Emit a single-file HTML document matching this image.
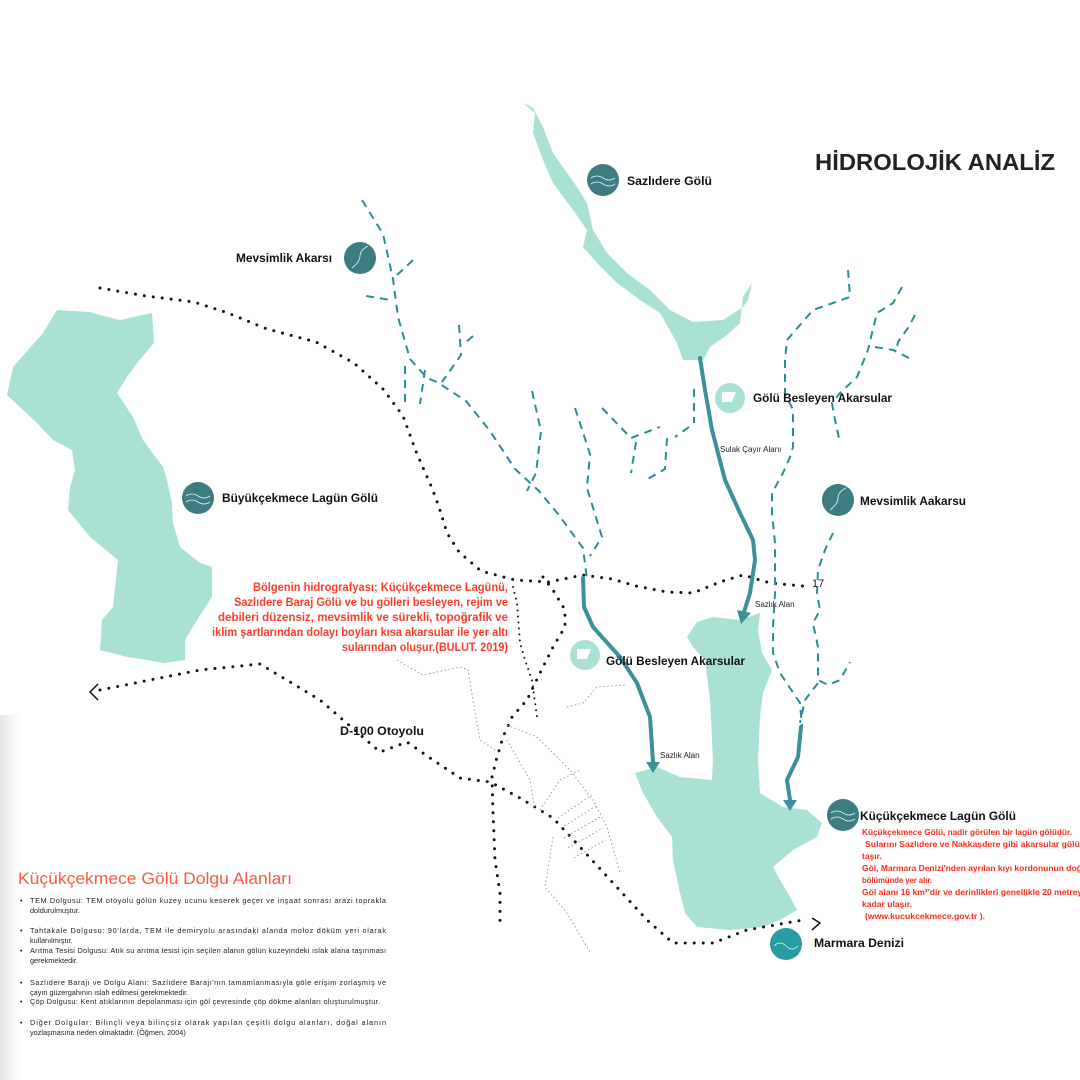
<!DOCTYPE html>
<html><head><meta charset="utf-8"><style>
body{margin:0;background:#fff;}
svg{display:block}
text{font-family:"Liberation Sans",sans-serif;}
.lb{font-weight:bold;font-size:12px;fill:#111}
.rd{font-weight:bold;font-size:11.5px;fill:#ff3b2a}
.rs{font-size:8.5px;fill:#ff2a1a;font-weight:bold}
.sm{font-size:7.3px;fill:#222}
.ds{fill:none;stroke:#2a8c97;stroke-width:2;stroke-dasharray:8 6}
.dt{fill:none;stroke:#111;stroke-width:3;stroke-dasharray:0 9;stroke-linecap:round}
.dts{fill:none;stroke:#111;stroke-width:2;stroke-dasharray:0 6;stroke-linecap:round}
.gd{fill:none;stroke:#999;stroke-width:1;stroke-dasharray:1.5 2.5}
.ar{fill:none;stroke:#3c9198;stroke-width:4;stroke-linecap:round;stroke-linejoin:round}
.ic{fill:none;stroke:#dff;stroke-width:0.8}
</style></head><body>
<svg width="1080" height="1080" viewBox="0 0 1080 1080">
<defs><linearGradient id="g" x1="0" x2="1"><stop offset="0" stop-color="#e6e6e6"/><stop offset="1" stop-color="#fff"/></linearGradient></defs>
<rect x="0" y="715" width="20" height="365" fill="url(#g)"/>
<g fill="#a9e2d4">
<polygon points="57,310 90,312 100,315 120,320 133,317 152,313 154,343 137,363 127,377 117,393 133,417 143,440 163,467 167,480 172,503 173,523 180,547 200,563 212,567 212,597 197,620 185,640 185,660 163,663 147,660 127,657 100,650 102,620 113,607 118,560 90,537 68,510 70,487 75,470 72,450 53,440 37,423 7,395 13,367 43,333"/>
<polygon points="523,103 535,113 533,133 543,160 553,183 573,210 587,230 583,247 597,263 617,283 640,300 660,313 677,343 683,360 703,360 710,347 727,335 740,323 743,297 752,283 748,300 743,307 723,320 693,322 670,310 650,290 627,273 607,253 593,230 587,203 577,187 553,153 543,127 533,108"/>
<polygon points="687,637 697,622 713,617 740,620 760,613 758,630 762,653 772,670 763,693 760,717 758,760 760,793 783,807 807,810 822,823 817,837 793,850 773,867 780,880 788,893 797,910 780,920 763,927 730,930 697,927 685,913 680,893 673,860 672,837 657,817 643,793 635,773 657,767 680,777 712,780 713,760 710,700 705,660 693,647"/>
</g>
<g class="dt">
<polyline points="100,288 146,296 194,302 228,313 267,329 316,342 354,363 383,389 403,416 417,454 432,488 439,507 447,533 459,552 481,571 515,580 549,582 583,575 612,579 636,586 667,592 693,593 720,582 743,575 770,583 803,586"/>
<polyline points="100,690 200,670 260,664 320,700 380,752 407,742 433,760 460,778 490,782 520,798 553,818 580,847 613,883 647,920 673,943 713,943 747,930 803,920"/>
<polyline points="543,577 553,590 565,610 565,627 553,647 540,673 527,700 512,717 503,737 497,757 492,777 493,813 495,860 500,893 500,925"/>
</g>
<polyline class="dts" points="513,587 517,603 520,643 525,660 532,680 537,717"/>
<polyline points="98,684 90,692 98,700" fill="none" stroke="#111" stroke-width="1.5"/>
<polyline points="812,918 820,923 812,930" fill="none" stroke="#111" stroke-width="1.5"/>
<g class="gd">
<polyline points="397,660 423,675 460,667 468,670 473,700 480,740 500,753"/>
<polyline points="567,707 583,703 597,687 625,685"/>
<polyline points="507,725 537,737 570,770 593,800 607,827 620,873"/>
<polyline points="553,837 545,887 567,913 590,952"/>
<polyline points="507,740 530,780 535,810"/>
<polyline points="540,810 560,780 580,770"/>
<line x1="558" y1="818" x2="592" y2="795"/><line x1="561" y1="828" x2="596" y2="806"/>
<line x1="564" y1="838" x2="600" y2="817"/><line x1="568" y1="848" x2="603" y2="828"/>
<line x1="574" y1="858" x2="606" y2="840"/>
</g>
<g class="ds">
<polyline points="362,200 383,234 393,279 398,317 410,359 427,378 437,382 466,401 490,431 515,469 539,491 558,514 583,548 587,579"/>
<polyline points="413,260 396,276"/>
<polyline points="366,296 391,300"/>
<polyline points="405,366 405,404"/>
<polyline points="425,370 420,404"/>
<polyline points="473,336 464,344"/>
<polyline points="459,325 461,355 442,382"/>
<polyline points="532,391 541,431 536,473 527,491"/>
<polyline points="575,408 590,454 587,488 602,537 590,556"/>
<polyline points="602,408 631,438 660,427"/>
<polyline points="636,442 631,473"/>
<polyline points="667,438 665,469 646,480"/>
<polyline points="689,427 675,437"/>
<polyline points="694,389 694,423"/>
<polyline points="848,270 850,297 833,303 813,310 800,325 787,340 785,360 785,393 793,410 793,447 790,457 783,473 772,493 772,513 775,543 775,593 773,627 773,653 780,673 800,703 802,727"/>
<polyline points="902,287 893,303 877,313 872,333 868,350 857,377 840,393 832,403 835,420 840,443"/>
<polyline points="915,315 908,328 898,342 897,347"/>
<polyline points="875,347 893,350 913,360"/>
<polyline points="833,533 825,550 818,570 817,593 820,610 813,623 818,647 818,680 828,685 840,680 850,662"/>
<polyline points="818,683 805,700 800,723"/>
</g>
<g class="ar">
<polyline points="700,358 705,390 712,430 725,480 740,513 753,540 755,560 750,593 744,612"/>
<polyline points="583,578 584,607 593,627 620,657 637,683 650,717 653,762"/>
<polyline points="801,727 798,757 787,780 790,800"/>
</g>
<g fill="#3c9198">
<polygon points="737,610 751,613 741,624"/>
<polygon points="646,762 660,762 653,773"/>
<polygon points="783,800 797,800 790,811"/>
</g>
<g fill="#3d7c80">
<circle cx="603" cy="180" r="16"/><circle cx="360" cy="258" r="16"/><circle cx="198" cy="498" r="16"/>
<circle cx="838" cy="500" r="16"/><circle cx="843" cy="815" r="16"/><circle cx="786" cy="944" r="16" fill="#2a9ba0"/>
</g>
<g class="ic">
<path d="M591 178 q6 -4 12 0 t12 0 M591 184 q6 -4 12 0 t12 0"/>
<path d="M186 496 q6 -4 12 0 t12 0 M186 502 q6 -4 12 0 t12 0"/>
<path d="M831 813 q6 -4 12 0 t12 0 M831 819 q6 -4 12 0 t12 0"/>
<path d="M774 946 q6 -6 12 0 t12 0"/>
<path d="M352 268 q8 -6 8 -12 t8 -10"/>
<path d="M830 510 q8 -6 8 -12 t8 -10"/>
</g>
<circle cx="730" cy="398" r="15" fill="#a9e2d4"/><circle cx="585" cy="655" r="15" fill="#a9e2d4"/>
<path d="M722 392 h14 l-4 10 h-10z M577 649 h14 l-4 10 h-10z" fill="#fff"/>
<text x="815" y="170" textLength="240" lengthAdjust="spacingAndGlyphs" style="font-weight:bold;font-size:23px;fill:#222">HİDROLOJİK ANALİZ</text>
<text class="lb" x="627" y="185" textLength="85" lengthAdjust="spacingAndGlyphs">Sazlıdere Gölü</text>
<text class="lb" x="236" y="262" textLength="96" lengthAdjust="spacingAndGlyphs">Mevsimlik Akarsı</text>
<text class="lb" x="753" y="402" textLength="139" lengthAdjust="spacingAndGlyphs">Gölü Besleyen Akarsular</text>
<text class="lb" x="222" y="502" textLength="156" lengthAdjust="spacingAndGlyphs">Büyükçekmece Lagün Gölü</text>
<text class="lb" x="860" y="505" textLength="106" lengthAdjust="spacingAndGlyphs">Mevsimlik Aakarsu</text>
<text class="lb" x="606" y="665" textLength="139" lengthAdjust="spacingAndGlyphs">Gölü Besleyen Akarsular</text>
<text class="lb" x="340" y="735" textLength="84" lengthAdjust="spacingAndGlyphs">D-100 Otoyolu</text>
<text class="lb" x="860" y="820" textLength="156" lengthAdjust="spacingAndGlyphs">Küçükçekmece Lagün Gölü</text>
<text class="lb" x="814" y="947" textLength="90" lengthAdjust="spacingAndGlyphs">Marmara Denizi</text>
<text x="720" y="452" style="font-size:8px;fill:#222">Sulak Çayır Alanı</text>
<text x="755" y="607" style="font-size:8px;fill:#222">Sazlık Alan</text>
<text x="660" y="758" style="font-size:8px;fill:#222">Sazlık Alan</text>
<text x="812" y="587" style="font-size:11px;fill:#222">17</text>
<text class="rd" x="253" y="591" textLength="255" lengthAdjust="spacingAndGlyphs">Bölgenin hidrografyası; Küçükçekmece Lagünü,</text>
<text class="rd" x="234" y="606" textLength="274" lengthAdjust="spacingAndGlyphs">Sazlıdere Baraj Gölü ve bu gölleri besleyen, rejim ve</text>
<text class="rd" x="218" y="621" textLength="290" lengthAdjust="spacingAndGlyphs">debileri düzensiz, mevsimlik ve sürekli, topoğrafik ve</text>
<text class="rd" x="212" y="636" textLength="296" lengthAdjust="spacingAndGlyphs">iklim şartlarından dolayı boyları kısa akarsular ile yer altı</text>
<text class="rd" x="342" y="651" textLength="166" lengthAdjust="spacingAndGlyphs">sularından oluşur.(BULUT. 2019)</text>
<text class="rs" x="862" y="835" textLength="210" lengthAdjust="spacingAndGlyphs">Küçükçekmece Gölü, nadir görülen bir lagün gölüdür.</text>
<text class="rs" x="865" y="847" textLength="225" lengthAdjust="spacingAndGlyphs">Sularını Sazlıdere ve Nakkaşdere gibi akarsular gölüne</text>
<text class="rs" x="862" y="859">taşır.</text>
<text class="rs" x="862" y="871" textLength="225" lengthAdjust="spacingAndGlyphs">Göl, Marmara Denizi'nden ayrılan kıyı kordonunun doğu</text>
<text class="rs" x="862" y="883" textLength="70" lengthAdjust="spacingAndGlyphs">bölümünde yer alır.</text>
<text class="rs" x="862" y="895" textLength="225" lengthAdjust="spacingAndGlyphs">Göl alanı 16 km²'dir ve derinlikleri genellikle 20 metreye</text>
<text class="rs" x="862" y="907" textLength="50" lengthAdjust="spacingAndGlyphs">kadar ulaşır.</text>
<text class="rs" x="865" y="919" textLength="120" lengthAdjust="spacingAndGlyphs">(www.kucukcekmece.gov.tr ).</text>
<text x="18" y="884" textLength="274" lengthAdjust="spacingAndGlyphs" style="font-size:17px;fill:#ff5a40">Küçükçekmece Gölü Dolgu Alanları</text>
<g class="sm">
<text x="20" y="903">•</text><text x="30" y="903" textLength="356" lengthAdjust="spacing">TEM Dolgusu: TEM otoyolu gölün kuzey ucunu keserek geçer ve inşaat sonrası arazi toprakla</text>
<text x="30" y="913">doldurulmuştur.</text>
<text x="20" y="933">•</text><text x="30" y="933" textLength="356" lengthAdjust="spacing">Tahtakale Dolgusu: 90'larda, TEM ile demiryolu arasındaki alanda moloz döküm yeri olarak</text>
<text x="30" y="943">kullanılmıştır.</text>
<text x="20" y="953">•</text><text x="30" y="953" textLength="356" lengthAdjust="spacing">Arıtma Tesisi Dolgusu: Atık su arıtma tesisi için seçilen alanın gölün kuzeyindeki ıslak alana taşınması</text>
<text x="30" y="963">gerekmektedir.</text>
<text x="20" y="985">•</text><text x="30" y="985" textLength="356" lengthAdjust="spacing">Sazlıdere Barajı ve Dolgu Alanı: Sazlıdere Barajı'nın tamamlanmasıyla göle erişim zorlaşmış ve</text>
<text x="30" y="995">çayın güzergahının ıslah edilmesi gerekmektedir.</text>
<text x="20" y="1004">•</text><text x="30" y="1004" textLength="350" lengthAdjust="spacing">Çöp Dolgusu: Kent atıklarının depolanması için göl çevresinde çöp dökme alanları oluşturulmuştur.</text>
<text x="20" y="1025">•</text><text x="30" y="1025" textLength="356" lengthAdjust="spacing">Diğer Dolgular: Bilinçli veya bilinçsiz olarak yapılan çeşitli dolgu alanları, doğal alanın</text>
<text x="30" y="1035">yozlaşmasına neden olmaktadır. (Öğmen, 2004)</text>
</g>
</svg>
</body></html>
